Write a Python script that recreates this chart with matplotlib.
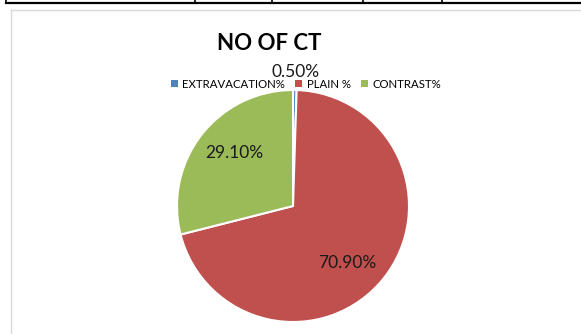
import numpy as np
import matplotlib
matplotlib.use("Agg")
import matplotlib.pyplot as plt
from matplotlib.lines import Line2D
from matplotlib.patches import Patch

plt.rcParams['font.family'] = ['Lato', 'DejaVu Sans']

categories = ["EXTRAVACATION%", "PLAIN %", "CONTRAST%"]
values = [0.50, 70.90, 29.10]
colors = ["#4F81BD", "#C0504D", "#9BBB59"]
label_radius = [1.155, 0.68, 0.68]
label_shift = [0.0, -8.0, -4.5]   # degrees, nudges the label along the slice
table_cols = [6, 195, 272, 363, 442]

W, H = 581, 334
fig = plt.figure(figsize=(W / 100, H / 100), dpi=100)
fig.patch.set_facecolor("white")


def px(x, y):
    return x / W, 1 - y / H


# table rule above the chart
x0, y0 = px(6, 3)
x1, _ = px(581, 3)
fig.add_artist(Line2D([x0, x1], [y0, y0], color="black", lw=1.6))
for c in table_cols:
    xa, ya = px(c, 0)
    _, yb = px(c, 3)
    fig.add_artist(Line2D([xa, xa], [ya + 0.01, yb], color="black", lw=1.2))

# chart frame
fx, fy = px(11, 10)
fig.add_artist(Line2D([fx, 1.0], [fy, fy], color="#d9d9d9", lw=1.0))
fig.add_artist(Line2D([fx, fx], [fy, 0.0], color="#d9d9d9", lw=1.0))

# pie
cx, cy, r = 293, 206, 116
ax = fig.add_axes([(cx - r) / W, (H - cy - r) / H, 2 * r / W, 2 * r / H])
wedges, _ = ax.pie(values, colors=colors, startangle=90, counterclock=False,
                   radius=1.0, wedgeprops=dict(edgecolor="white", linewidth=1.5))
ax.set_xlim(-1, 1)
ax.set_ylim(-1, 1)
ax.set_aspect("equal")
ax.axis("off")

for w, v, lr, sh in zip(wedges, values, label_radius, label_shift):
    mid = np.deg2rad((w.theta1 + w.theta2) / 2 + sh)
    ax.text(lr * np.cos(mid), lr * np.sin(mid), "%.2f%%" % v,
            ha="center", va="center", fontsize=12.5, color="#1a1a1a", clip_on=False)

fig.text(269 / W, 1 - 44 / H, "NO OF CT", ha="center", va="center",
         fontsize=16, fontweight="bold", color="black")

handles = [Patch(facecolor=c, edgecolor="none") for c in colors]
fig.legend(handles, categories, loc="center", bbox_to_anchor=px(306, 84), ncol=3,
           frameon=False, fontsize=8.2, handlelength=0.6, handleheight=0.6,
           handletextpad=0.4, columnspacing=0.9, borderpad=0)

fig.savefig("out.png", dpi=100)
